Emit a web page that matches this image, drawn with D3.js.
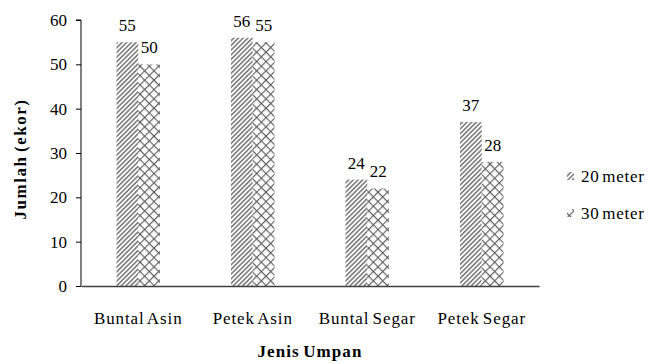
<!DOCTYPE html>
<html>
<head>
<meta charset="utf-8">
<script src="https://cdn.jsdelivr.net/npm/d3@7"></script>
<style>
  html, body { margin: 0; padding: 0; background: #fff; }
  svg { display: block; }
</style>
</head>
<body>
<svg id="chart" width="655" height="364"></svg>
<script>
// Catch counts per bait type at two fishing depths
const categories = ["Buntal Asin", "Petek Asin", "Buntal Segar", "Petek Segar"];
const seriesNames = ["20 meter", "30 meter"];
const values20 = [55, 56, 24, 37];
const values30 = [50, 55, 22, 28];
const yTicks = [0, 10, 20, 30, 40, 50, 60];

const FONT = "'Liberation Serif', Tinos, 'Times New Roman', Times, serif";

const svg = d3.select("#chart");
const plot = { left: 81, right: 539, top: 20, bottom: 286 };

const x = d3.scaleBand().domain(categories).range([plot.left, plot.right]).paddingInner(0).paddingOuter(0);
const y = d3.scaleLinear().domain([0, 60]).range([plot.bottom, plot.top]);
const barW = x.bandwidth() * 0.19;

// Hatch fills
const defs = svg.append("defs");
const stripes = defs.append("pattern")
  .attr("id", "hatch20").attr("patternUnits", "userSpaceOnUse")
  .attr("width", 3.3).attr("height", 3.3)
  .attr("patternTransform", "rotate(45)");
stripes.append("rect").attr("width", 3.3).attr("height", 3.3).attr("fill", "#fff");
stripes.append("line").attr("x1", 0.8).attr("y1", 0).attr("x2", 0.8).attr("y2", 3.3)
  .attr("stroke", "#595959").attr("stroke-width", 1.25);

const cross = defs.append("pattern")
  .attr("id", "hatch30").attr("patternUnits", "userSpaceOnUse")
  .attr("width", 6.6).attr("height", 6.6)
  .attr("patternTransform", "rotate(45)");
cross.append("rect").attr("width", 6.6).attr("height", 6.6).attr("fill", "#fff");
cross.append("line").attr("x1", 0.6).attr("y1", 0).attr("x2", 0.6).attr("y2", 6.6)
  .attr("stroke", "#5a5a5a").attr("stroke-width", 1.1);
cross.append("line").attr("x1", 0).attr("y1", 0.6).attr("x2", 6.6).attr("y2", 0.6)
  .attr("stroke", "#5a5a5a").attr("stroke-width", 1.1);

const fills = ["url(#hatch20)", "url(#hatch30)"];
const series = [values20, values30];

// Bars and value labels
series.forEach((vals, si) => {
  const g = svg.append("g");
  const bx = d => x(categories[d.i]) + x.bandwidth() / 2 - barW + si * barW;
  const data = vals.map((v, i) => ({ v, i }));
  g.selectAll("rect").data(data).enter().append("rect")
    .attr("x", bx)
    .attr("y", d => y(d.v))
    .attr("width", barW)
    .attr("height", d => y(0) - y(d.v))
    .attr("fill", fills[si]);
  g.selectAll("text").data(data).enter().append("text")
    .attr("x", d => bx(d) + barW / 2)
    .attr("y", d => y(d.v) - 11)
    .attr("text-anchor", "middle")
    .style("font-family", FONT).style("font-size", "17px")
    .text(d => d.v);
});

// Y axis
const yAxis = svg.append("g")
  .attr("transform", `translate(${plot.left},0)`)
  .call(d3.axisLeft(y).tickValues(yTicks).tickSize(5).tickPadding(9).tickFormat(d3.format("d")));
yAxis.select(".domain").attr("stroke", "#000").attr("d", `M-5,${plot.top}H0V${plot.bottom}`);
yAxis.selectAll(".tick line").attr("stroke", "#000");
yAxis.selectAll(".tick text").style("font-family", FONT).style("font-size", "17px");

// X axis baseline and category labels
const xAxis = svg.append("g")
  .attr("transform", `translate(0,${plot.bottom})`)
  .call(d3.axisBottom(x).tickSize(0).tickPadding(26));
xAxis.select(".domain").attr("stroke", "#404040").attr("stroke-width", 1.6);
xAxis.selectAll(".tick text").style("font-family", FONT).style("font-size", "17px")
  .style("letter-spacing", "0.9px").style("word-spacing", "-2px");

// Axis titles
svg.append("text")
  .attr("x", (plot.left + plot.right) / 2).attr("y", 357)
  .attr("text-anchor", "middle")
  .style("font-family", FONT).style("font-size", "17px").style("font-weight", "bold")
  .style("letter-spacing", "1.1px").style("word-spacing", "-2px")
  .text("Jenis Umpan");
svg.append("text")
  .attr("transform", "translate(26,159) rotate(-90)")
  .attr("text-anchor", "middle")
  .style("font-family", FONT).style("font-size", "17px").style("font-weight", "bold")
  .style("letter-spacing", "1.5px").style("word-spacing", "-2px")
  .text("Jumlah (ekor)");

// Legend
const legend = svg.append("g");
seriesNames.forEach((name, i) => {
  const ly = 176 + i * 37;
  legend.append("rect").attr("x", 567).attr("y", ly - 4).attr("width", 7).attr("height", 8)
    .attr("fill", fills[i]);
  legend.append("text").attr("x", 581).attr("y", ly + 5.5)
    .style("font-family", FONT).style("font-size", "17px")
    .style("letter-spacing", "0.7px").style("word-spacing", "-2px")
    .text(name);
});
</script>
</body>
</html>
